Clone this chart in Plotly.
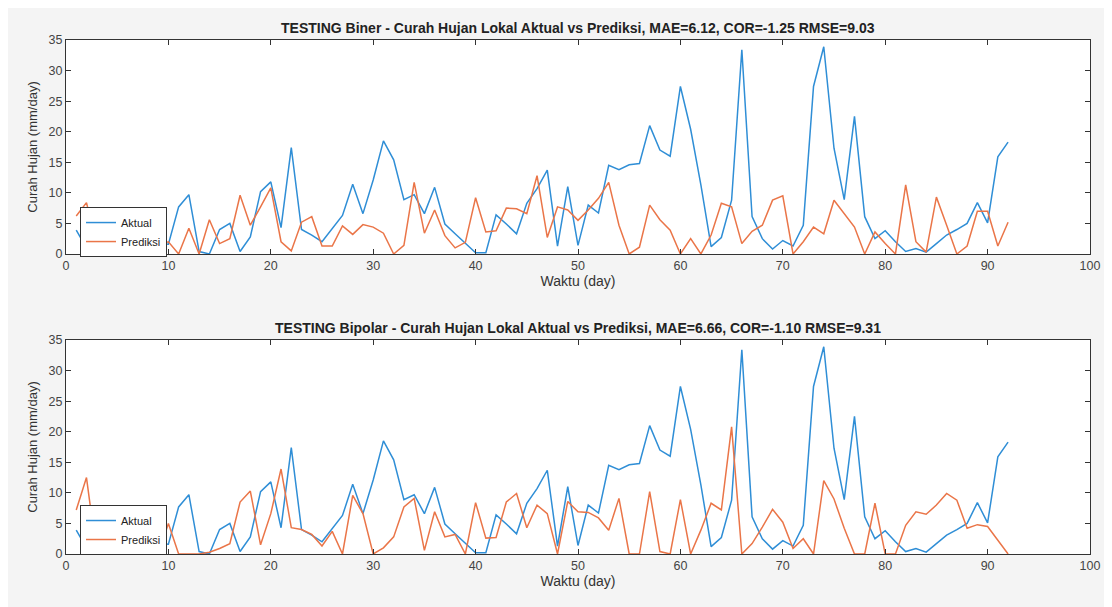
import plotly.graph_objects as go

# hari ke-1 .. ke-92
hari = list(range(1, 93))

aktual = [3.9, 1.0, 2.0, 2.0, 1.1, 1.0, 0.3, 0.5, 1.7, 1.6,
          7.7, 9.7, 0.4, 0.0, 4.0, 5.0, 0.4, 2.8, 10.2, 11.8,
          4.3, 17.4, 4.0, 3.1, 2.0, 4.2, 6.3, 11.4, 6.6, 12.1,
          18.5, 15.4, 8.9, 9.7, 6.6, 10.9, 4.9, 3.3, 1.7, 0.2,
          0.2, 6.4, 4.9, 3.3, 8.3, 10.7, 13.7, 1.3, 11.0, 1.4,
          8.0, 6.7, 14.5, 13.8, 14.6, 14.8, 21.0, 17.0, 16.0, 27.4,
          20.4, 11.3, 1.2, 2.7, 8.8, 33.4, 6.1, 2.5, 0.8, 2.2,
          1.3, 4.7, 27.4, 33.9, 17.3, 8.9, 22.5, 6.1, 2.5, 3.8,
          2.0, 0.4, 0.9, 0.3, 1.7, 3.1, 4.0, 5.0, 8.4, 5.1,
          15.9, 18.3]

prediksi_biner = [6.2, 8.4, 1.4, 0.0, 0.0, 0.0, 0.0, 0.0, 1.5, 2.0,
                  0.0, 4.2, 0.0, 5.6, 1.7, 2.5, 9.6, 4.7, 7.7, 10.8,
                  2.0, 0.5, 5.2, 6.1, 1.3, 1.3, 4.6, 3.2, 4.8, 4.4,
                  3.4, 0.0, 1.4, 11.7, 3.4, 7.2, 3.0, 1.0, 1.9, 9.2,
                  3.6, 3.8, 7.5, 7.4, 6.6, 12.8, 2.7, 7.7, 7.2, 5.5,
                  7.2, 9.1, 11.7, 4.7, 0.0, 1.1, 8.0, 5.6, 3.9, 0.0,
                  2.5, 0.0, 3.1, 8.3, 7.7, 1.7, 3.7, 4.7, 8.8, 9.5,
                  0.0, 2.0, 4.4, 3.3, 8.8, 6.6, 4.4, 0.0, 3.6, 1.7,
                  0.0, 11.3, 2.0, 0.3, 9.3, 4.7, 0.0, 1.3, 7.0, 7.0,
                  1.3, 5.2]

prediksi_bipolar = [7.2, 12.5, 0.0, 0.0, 0.0, 0.0, 0.0, 0.0, 0.0, 5.0,
                    0.0, 0.0, 0.0, 0.3, 0.9, 1.7, 8.5, 10.3, 1.5, 6.6,
                    13.9, 4.3, 4.0, 3.2, 1.3, 3.7, 0.0, 9.6, 6.6, 0.0,
                    1.0, 2.8, 7.7, 9.1, 0.6, 6.9, 2.8, 3.2, 0.0, 8.4,
                    2.6, 2.7, 8.5, 9.9, 4.3, 8.0, 6.6, 0.0, 8.6, 6.9,
                    6.8, 5.9, 3.9, 9.1, 0.0, 0.0, 10.2, 0.4, 0.0, 8.9,
                    0.0, 3.9, 8.3, 7.2, 20.8, 0.0, 1.7, 4.4, 7.3, 5.2,
                    0.9, 2.5, 0.0, 12.0, 9.0, 4.2, 0.0, 0.0, 8.3, 0.0,
                    0.0, 4.7, 6.9, 6.5, 8.0, 9.9, 8.8, 4.2, 4.8, 4.5,
                    2.2, 0.0]

judul_atas = "TESTING Biner - Curah Hujan Lokal Aktual vs Prediksi, MAE=6.12, COR=-1.25 RMSE=9.03"
judul_bawah = "TESTING Bipolar - Curah Hujan Lokal Aktual vs Prediksi, MAE=6.66, COR=-1.10 RMSE=9.31"

BIRU = '#2f8ed6'
ORANYE = '#ea7548'
FONT = "Liberation Sans, Arial, sans-serif"

fig = go.Figure()

# grafik atas (Biner)
fig.add_trace(go.Scatter(x=hari, y=aktual, mode='lines', name='Aktual',
                         line=dict(color=BIRU, width=1.5), xaxis='x', yaxis='y', legend='legend'))
fig.add_trace(go.Scatter(x=hari, y=prediksi_biner, mode='lines', name='Prediksi',
                         line=dict(color=ORANYE, width=1.5), xaxis='x', yaxis='y', legend='legend'))

# grafik bawah (Bipolar)
fig.add_trace(go.Scatter(x=hari, y=aktual, mode='lines', name='Aktual',
                         line=dict(color=BIRU, width=1.5), xaxis='x2', yaxis='y2', legend='legend2'))
fig.add_trace(go.Scatter(x=hari, y=prediksi_bipolar, mode='lines', name='Prediksi',
                         line=dict(color=ORANYE, width=1.5), xaxis='x2', yaxis='y2', legend='legend2'))

sumbu_x = dict(range=[0, 100], tickvals=list(range(0, 101, 10)), ticks='inside', ticklen=5,
               tickcolor='#333333', showline=True, linecolor='#333333', linewidth=1, mirror='ticks',
               showgrid=False, zeroline=False, tickfont=dict(size=12.5, color='#444444'),
               title=dict(text='Waktu (day)', font=dict(size=14, color='#333333'), standoff=2))
sumbu_y = dict(range=[0, 35], tickvals=list(range(0, 36, 5)), ticks='inside', ticklen=5,
               tickcolor='#333333', showline=True, linecolor='#333333', linewidth=1, mirror='ticks',
               showgrid=False, zeroline=False, tickfont=dict(size=12.5, color='#444444'),
               title=dict(text='Curah Hujan (mm/day)', font=dict(size=13, color='#333333'), standoff=8))

legenda = dict(x=0.0137, xanchor='left', yanchor='top', bgcolor='white',
               bordercolor='#333333', borderwidth=1, font=dict(size=11, color='#222222'),
               tracegroupgap=0, itemwidth=30)

fig.update_layout(
    width=1104, height=599,
    margin=dict(l=58, r=22, t=32, b=53),
    paper_bgcolor='#f4f4f4', plot_bgcolor='white',
    font=dict(family=FONT),
    xaxis=dict(sumbu_x, domain=[0, 1], anchor='y'),
    yaxis=dict(sumbu_y, domain=[0.5837, 1], anchor='x'),
    xaxis2=dict(sumbu_x, domain=[0, 1], anchor='y2'),
    yaxis2=dict(sumbu_y, domain=[0, 0.4163], anchor='x2'),
    legend=dict(legenda, y=0.675),
    legend2=dict(legenda, y=0.0953),
    annotations=[
        dict(text='<b>%s</b>' % judul_atas, x=0.5, y=1, xref='paper', yref='paper',
             xanchor='center', yanchor='bottom', yshift=2, showarrow=False,
             font=dict(size=14, color='#222222')),
        dict(text='<b>%s</b>' % judul_bawah, x=0.5, y=0.4163, xref='paper', yref='paper',
             xanchor='center', yanchor='bottom', yshift=2, showarrow=False,
             font=dict(size=14, color='#222222')),
    ],
)

fig.write_html("out.html")
